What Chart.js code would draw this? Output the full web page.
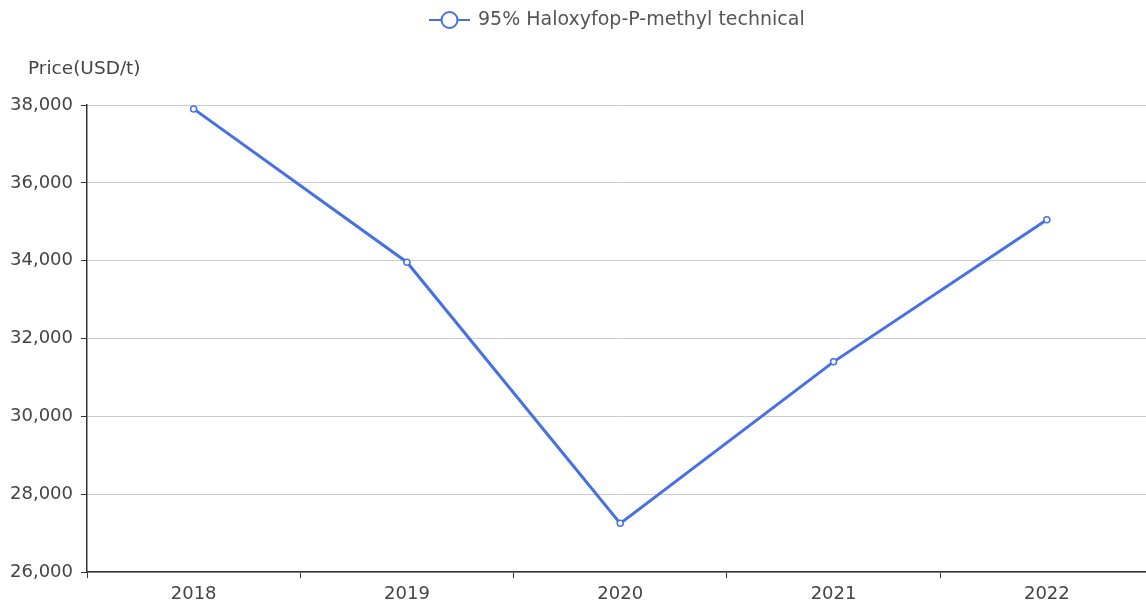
<!DOCTYPE html>
<html>
<head>
<meta charset="utf-8">
<script src="https://cdn.jsdelivr.net/npm/chart.js@4.4.1/dist/chart.umd.min.js"></script>
<style>
  html, body { margin: 0; padding: 0; background: #fff; overflow: hidden; }
  #wrap { position: relative; width: 1160px; height: 603px; }
</style>
</head>
<body>
<div id="wrap"><canvas id="c" width="1160" height="603"></canvas></div>
<script>
const categories = ['2018', '2019', '2020', '2021', '2022'];
const seriesName = '95% Haloxyfop-P-methyl technical';
const priceValues = [37900, 33960, 27250, 31400, 35050];
const yAxisTitle = 'Price(USD/t)';
const yMin = 26000, yMax = 38000, yStep = 2000;

const LINE = '#4670e6';
const TXT = '#444';
const FONT = 'DejaVu Sans';

const overlay = {
  id: 'overlay',
  afterDraw(chart) {
    const ctx = chart.ctx;
    ctx.save();
    // y axis title
    ctx.font = '18.5px "' + FONT + '"';
    ctx.fillStyle = TXT;
    ctx.textAlign = 'left';
    ctx.textBaseline = 'middle';
    ctx.fillText(yAxisTitle, 28, 69);
    // legend
    const lx = 429, ly = 20;
    ctx.strokeStyle = LINE;
    ctx.lineWidth = 2;
    ctx.beginPath(); ctx.moveTo(lx, ly); ctx.lineTo(lx + 41, ly); ctx.stroke();
    ctx.fillStyle = '#fff';
    ctx.beginPath(); ctx.arc(lx + 20.5, ly, 8, 0, Math.PI * 2); ctx.fill(); ctx.stroke();
    ctx.fillStyle = '#555';
    ctx.font = '19px "' + FONT + '"';
    ctx.fillText(seriesName, 478, ly);
    ctx.restore();
  }
};

new Chart(document.getElementById('c'), {
  type: 'line',
  data: {
    labels: categories,
    datasets: [{
      label: seriesName,
      data: priceValues,
      borderColor: LINE,
      borderWidth: 3,
      pointRadius: 3,
      pointBorderWidth: 1.5,
      pointBackgroundColor: '#fff',
      pointBorderColor: LINE,
      tension: 0,
      fill: false
    }]
  },
  options: {
    responsive: false,
    animation: false,
    layout: { padding: { top: 105, right: 6.5, left: 0, bottom: 0 } },
    plugins: { legend: { display: false }, title: { display: false }, tooltip: { enabled: false } },
    scales: {
      x: {
        offset: true,
        afterFit(s) { s.height = 31; },
        grid: { display: true, drawOnChartArea: false, drawTicks: true, tickLength: 6, tickColor: '#333', offset: true },
        border: { color: '#333', width: 1.5 },
        ticks: { color: TXT, font: { family: FONT, size: 18 }, padding: 6, maxRotation: 0 }
      },
      y: {
        min: yMin, max: yMax,
        afterFit(s) { s.width = 87; },
        grid: { color: '#cccccc', lineWidth: 1, tickLength: 6, tickColor: '#333' },
        border: { color: '#333', width: 1.5 },
        ticks: {
          stepSize: yStep, color: TXT, font: { family: FONT, size: 18 }, padding: 8,
          callback: v => v.toLocaleString('en-US')
        }
      }
    }
  },
  plugins: [overlay]
});
</script>
</body>
</html>
